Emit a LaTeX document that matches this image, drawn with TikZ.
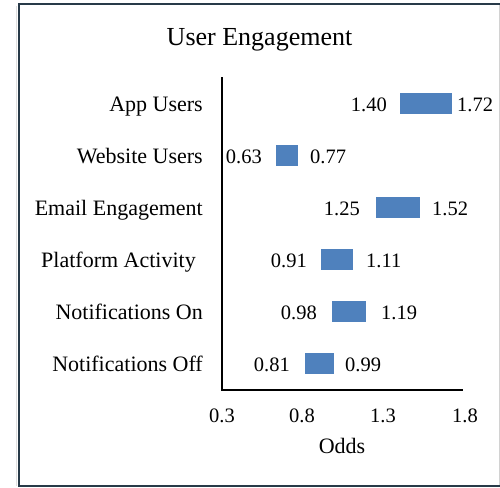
\documentclass[tikz,border=0pt]{standalone}
\usepackage{fontspec}
\setmainfont{Liberation Serif}
\usepackage{tikz}

\definecolor{barblue}{RGB}{79,129,189}
\definecolor{frameslate}{RGB}{40,58,72}

\tikzset{
  cat/.style={anchor=base east, inner sep=0pt, font=\fontsize{22}{26}\selectfont},
  lo/.style={anchor=base east, inner sep=0pt, font=\fontsize{20.5}{24}\selectfont},
  hi/.style={anchor=base west, inner sep=0pt, font=\fontsize{20.5}{24}\selectfont},
  tick/.style={inner sep=0pt, font=\fontsize{20.5}{24}\selectfont},
  bar/.style={fill=barblue},
}

\begin{document}
\begin{tikzpicture}[x=1pt,y=-1pt]
\useasboundingbox (0,0) rectangle (500,487);

% frame
\draw[gray!25, line width=1pt] (16,6) -- (16,486);
\draw[gray!35, line width=1pt] (499,4) -- (499,486);
\draw[frameslate, line width=2pt] (500,4) -- (18.5,4) -- (18.5,486) -- (500,486);

\node[font=\fontsize{26}{30}\selectfont] (title) at (259.5,40) {User Engagement};

% axes
\coordinate (top) at (222,77);
\coordinate (origin) at (222,390);
\coordinate (xend) at (463,390);
\draw[line width=1.4pt] (top) -- (origin) -- (xend);

\node[cat] (c1) at (203,111.5) {App Users};
\node[cat] (c2) at (203,163.5) {Website Users};
\node[cat] (c3) at (203,215.5) {Email Engagement};
\node[cat] (c4) at (196,267.5) {Platform Activity};
\node[cat] (c5) at (203,319.5) {Notifications On};
\node[cat] (c6) at (203,371.5) {Notifications Off};

\fill[bar] (400.2,93) rectangle (452,114);
\fill[bar] (275.5,145) rectangle (298.1,166);
\fill[bar] (375.9,197) rectangle (419.6,218);
\fill[bar] (320.8,249) rectangle (353.2,270);
\fill[bar] (332.2,301) rectangle (366.2,322);
\fill[bar] (304.6,353) rectangle (333.8,374);

\node[lo] (l1) at (387,111.5) {1.40};
\node[hi] (h1) at (457,111.5) {1.72};
\node[lo] (l2) at (262,163.5) {0.63};
\node[hi] (h2) at (310,163.5) {0.77};
\node[lo] (l3) at (360,215.5) {1.25};
\node[hi] (h3) at (432,215.5) {1.52};
\node[lo] (l4) at (307,267.5) {0.91};
\node[hi] (h4) at (366,267.5) {1.11};
\node[lo] (l5) at (317,319.5) {0.98};
\node[hi] (h5) at (381,319.5) {1.19};
\node[lo] (l6) at (290,371.5) {0.81};
\node[hi] (h6) at (345,371.5) {0.99};

\node[tick] (t1) at (222,416) {0.3};
\node[tick] (t2) at (302,416) {0.8};
\node[tick] (t3) at (383,416) {1.3};
\node[tick] (t4) at (465,416) {1.8};
\node[tick, font=\fontsize{22}{26}\selectfont] (odds) at (342,446) {Odds};
\end{tikzpicture}
\end{document}
